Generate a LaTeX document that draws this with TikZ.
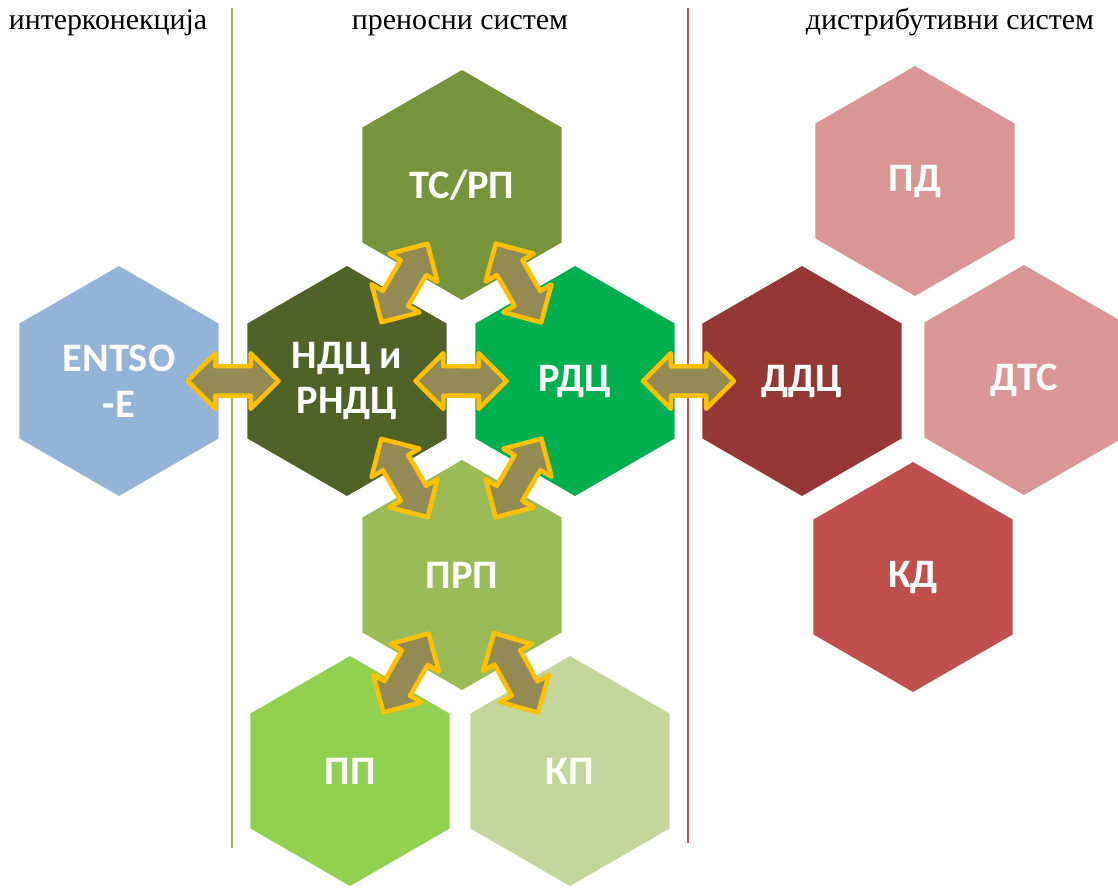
\documentclass[tikz,border=0pt]{standalone}
\usepackage{fontspec}
\setmainfont{Liberation Serif}
\newfontfamily\hexfont{Carlito}
\usetikzlibrary{shapes.geometric,shapes.arrows,positioning}

\definecolor{entsocol}{HTML}{95B3D7}
\definecolor{tsrpcol}{HTML}{77933C}
\definecolor{ndccol}{HTML}{4F6228}
\definecolor{rdccol}{HTML}{00B050}
\definecolor{prpcol}{HTML}{9BBB59}
\definecolor{ppcol}{HTML}{92D050}
\definecolor{kpcol}{HTML}{C3D69B}
\definecolor{pdcol}{HTML}{D99694}
\definecolor{ddccol}{HTML}{953735}
\definecolor{kdcol}{HTML}{C0504D}
\definecolor{arrowfill}{HTML}{948A54}
\definecolor{arrowline}{HTML}{FFC000}

\begin{document}
\begin{tikzpicture}[x=0.02cm,y=-0.02cm,
    hex/.style={regular polygon,regular polygon sides=6,shape border rotate=30,
      minimum size=4.6cm,inner sep=0pt,outer sep=0pt,draw=none,fill=#1,
      text=white,align=center,font=\hexfont\bfseries\fontsize{23}{26}\selectfont},
    dblarrow/.style={double arrow,draw=arrowline,fill=arrowfill,line width=2.6pt,
      line join=round,inner xsep=0pt,inner ysep=0.25cm,minimum height=1.82cm,
      double arrow head extend=0.26cm},
    title/.style={anchor=base,font=\fontsize{17}{20}\selectfont}]
  \useasboundingbox (0,0) rectangle (1118,888);

  % headings and separators
  \node[title] (interc) at (108,30) {интерконекција};
  \node[title] (trans) at (460,30) {преносни систем};
  \node[title] (distr) at (950,30) {дистрибутивни систем};
  \draw[prpcol,line width=1.1pt] (232,8) -- (232,848);
  \draw[kdcol,line width=1.1pt] (688,8) -- (688,843);

  % hexagons
  \node[hex=entsocol] (entsoe) at (119,381) {ENTSO\\-E};
  \node[hex=tsrpcol] (tsrp) at (462,185) {ТС/РП};
  \node[hex=ndccol] (ndc) at (347,381) {НДЦ и\\РНДЦ};
  \node[hex=rdccol] (rdc) at (575,381) {РДЦ};
  \node[hex=prpcol] (prp) at (462,575) {ПРП};
  \node[hex=ppcol] (pp) at (350,771) {ПП};
  \node[hex=kpcol] (kp) at (570,771) {КП};
  \node[hex=pdcol] (pd) at (915,181) {ПД};
  \node[hex=ddccol] (ddc) at (802,381) {ДДЦ};
  \node[hex=pdcol] (dts) at (1024,380) {ДТС};
  \node[hex=kdcol] (kd) at (913,577) {КД};

  % links
  \path[every node/.style={dblarrow,sloped}]
    (entsoe) -- node {} (ndc)
    (ndc) -- node {} (rdc)
    (rdc) -- node {} (ddc)
    (ndc) -- node {} (tsrp)
    (tsrp) -- node {} (rdc)
    (ndc) -- node {} (prp)
    (rdc) -- node {} (prp)
    (prp) -- node {} (pp)
    (prp) -- node {} (kp);
\end{tikzpicture}
\end{document}
